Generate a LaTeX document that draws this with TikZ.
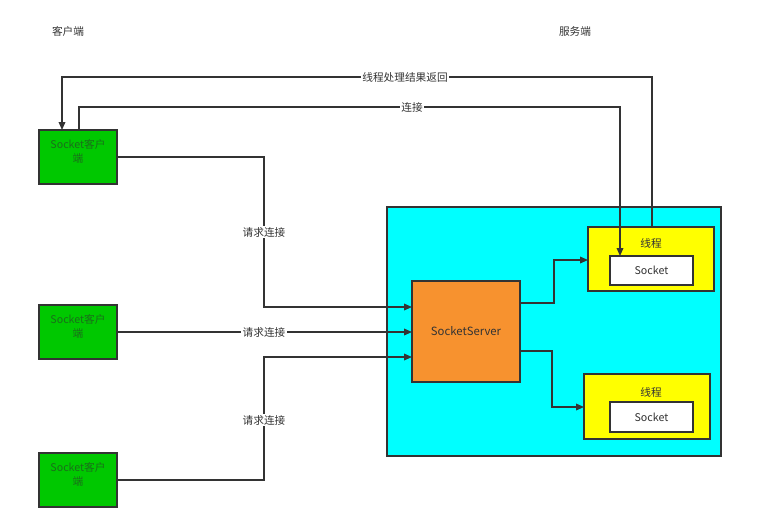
\documentclass[tikz,border=0pt]{standalone}
\usepackage{fontspec}
\setmainfont{Noto Sans CJK SC}
\usetikzlibrary{arrows.meta,calc}
\definecolor{linec}{HTML}{333333}
\definecolor{txtc}{HTML}{333333}
\definecolor{greenf}{HTML}{00C800}
\definecolor{greent}{HTML}{1A6F1A}
\definecolor{cyanf}{HTML}{00FFFF}
\definecolor{orangef}{HTML}{F7922F}
\definecolor{yellowf}{HTML}{FFFF00}
\tikzset{
  box/.style={draw=linec, line width=1pt, rectangle, inner sep=0pt, align=center},
  client/.style={box, fill=greenf, minimum width=58.5pt, minimum height=40.5pt},
  ctext/.style={text=greent, inner sep=0pt, align=center, font=\fontsize{8}{10.5}\selectfont},
  conn/.style={draw=linec, line width=1pt, -{Triangle[length=6pt,width=5pt]}},
  lbl/.style={fill=white, inner sep=1pt, text=txtc, font=\fontsize{8}{10}\selectfont},
  txt/.style={text=txtc, inner sep=0pt, font=\fontsize{8}{10}\selectfont}
}
\begin{document}
\begin{tikzpicture}[x=0.75pt,y=-0.75pt]
\useasboundingbox (0,0) rectangle (771,508);
% headers
\node[txt] (hc) at (68,31) {客户端};
\node[txt] (hs) at (575,31) {服务端};
% clients
\node[client] (c1) at (78,157) {};
\node[ctext] (c1t) at (78,151) {Socket客户\\端};
\node[client] (c2) at (78,332) {};
\node[ctext] (c2t) at (78,326) {Socket客户\\端};
\node[client] (c3) at (78,480) {};
\node[ctext] (c3t) at (78,474) {Socket客户\\端};
% server area
\node[box, fill=cyanf, minimum width=250.5pt, minimum height=186.75pt] (area) at (554,331.5) {};
\node[box, fill=orangef, minimum width=81pt, minimum height=75.75pt, text=txtc, font=\fontsize{8.5}{10}\selectfont] (srv) at (466,331.5) {SocketServer};
\node[box, fill=yellowf, minimum width=94.5pt, minimum height=48pt] (th1) at (651,259) {};
\node[txt] (th1l) at (651,243) {线程};
\node[box, fill=white, minimum width=62.25pt, minimum height=21.75pt, text=txtc, font=\fontsize{8}{10}\selectfont] (s1) at (651.5,270.5) {Socket};
\node[box, fill=yellowf, minimum width=94.5pt, minimum height=48.75pt] (th2) at (647,406.5) {};
\node[txt] (th2l) at (651,392) {线程};
\node[box, fill=white, minimum width=62.25pt, minimum height=22.5pt, text=txtc, font=\fontsize{8}{10}\selectfont] (s2) at (651.5,417) {Socket};
% entry points
\coordinate (in1) at (412,307);
\coordinate (in2) at (412,332);
\coordinate (in3) at (412,357);
\coordinate (o1) at (520,303);
\coordinate (o2) at (520,351);
\coordinate (t1in) at (588,260);
\coordinate (t2in) at (584,407);
\coordinate (ret) at (652,227);
\coordinate (retend) at (62,130);
\coordinate (cstart) at (79,130);
\coordinate (cend) at (620,256);
% client connectors
\draw[conn] (c1.east) -- (264,157) -- (264,307) -- (in1);
\node[lbl] at (264,232) {请求连接};
\draw[conn] (c2.east) -- (in2);
\node[lbl] at (264,332) {请求连接};
\draw[conn] (c3.east) -- (264,480) -- (264,357) -- (in3);
\node[lbl] at (264,420) {请求连接};
% server to threads
\draw[conn] (o1) -- (554,303) -- (554,260) -- (t1in);
\draw[conn] (o2) -- (552,351) -- (552,407) -- (t2in);
% top connectors
\draw[conn] (ret) -- (652,77) -- (62,77) -- (retend);
\node[lbl] at (405,77) {线程处理结果返回};
\draw[conn] (cstart) -- (79,107) -- (620,107) -- (cend);
\node[lbl] at (412,107) {连接};
\end{tikzpicture}
\end{document}
